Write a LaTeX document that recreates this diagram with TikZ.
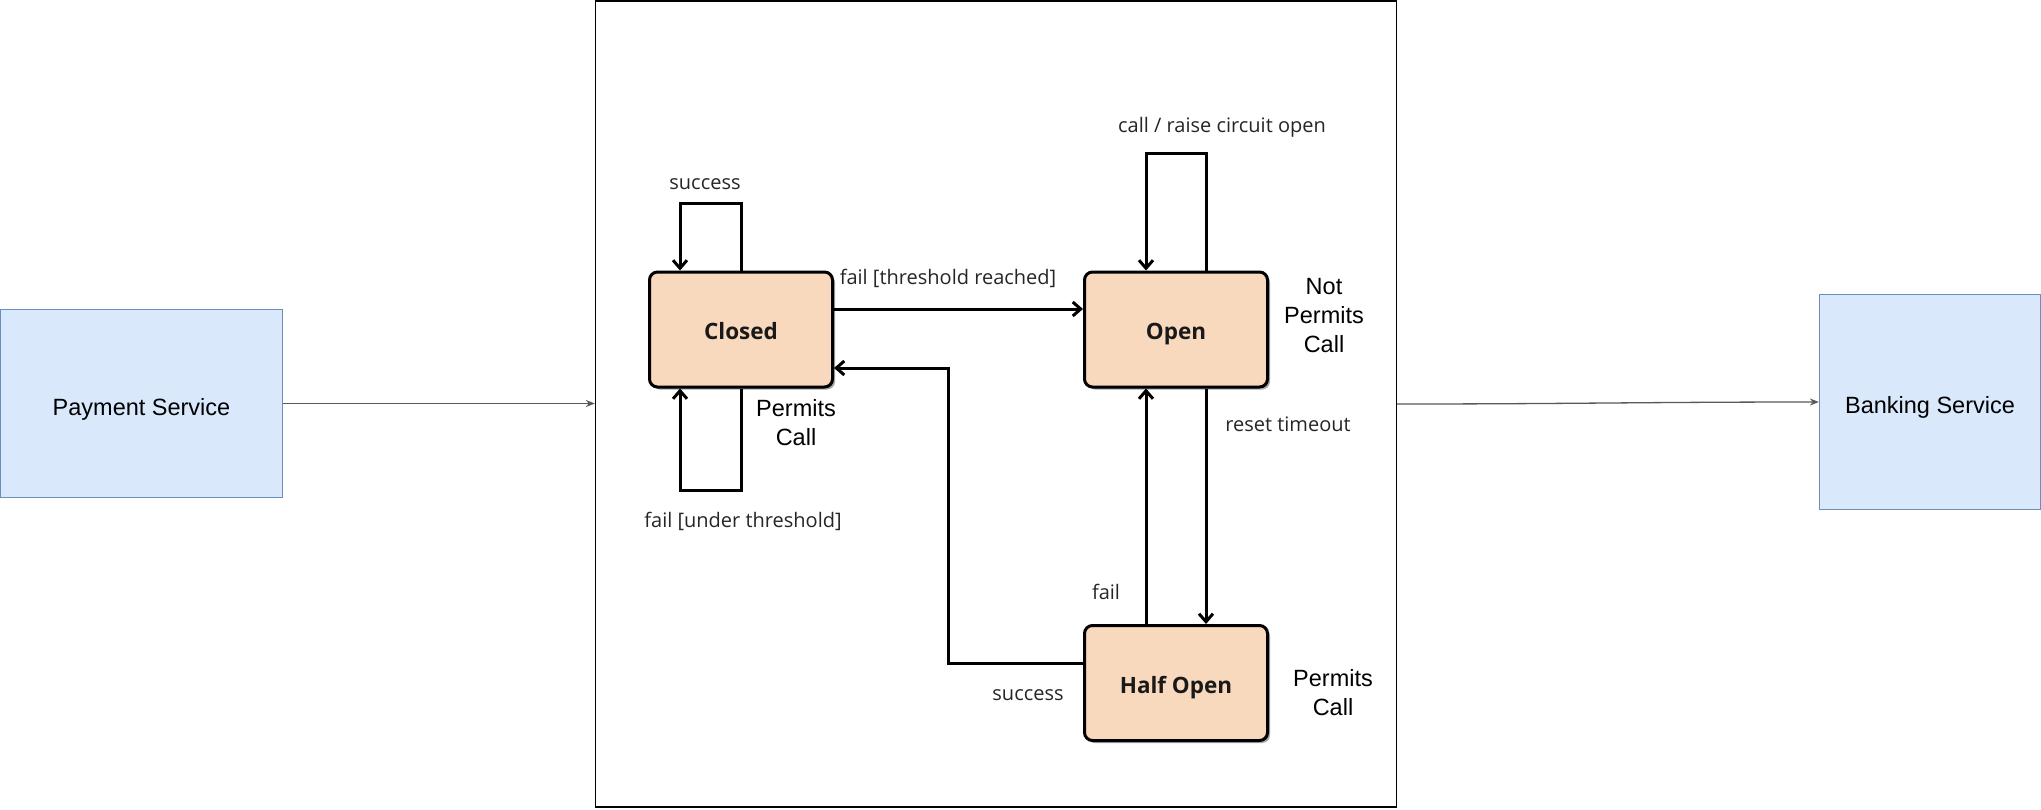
\documentclass[tikz,border=0pt]{standalone}
\usepackage{fontspec}
\newfontfamily\osfont{Open Sans}
\newfontfamily\arfont{Liberation Sans}
\usetikzlibrary{arrows.meta,shadows}
\definecolor{peach}{HTML}{F8D9BE}
\definecolor{bluefill}{HTML}{DAE8FC}
\definecolor{bluedraw}{HTML}{6C8EBF}
\definecolor{labgray}{HTML}{262626}
\tikzset{
  statebox/.style={draw=black, line width=3pt, fill=peach, rounded corners=8pt,
    minimum width=183pt, minimum height=115pt, inner sep=0pt,
    text height=20pt, text depth=0pt,
    font=\osfont\bfseries\fontsize{22.5}{26}\selectfont, text=black!90,
    drop shadow={shadow xshift=2.5pt, shadow yshift=-2.5pt, fill=black, opacity=.35}},
  svc/.style={draw=bluedraw, line width=1.3pt, fill=bluefill, inner sep=0pt,
    text height=23pt, text depth=0pt,
    font=\arfont\fontsize{23.5}{28}\selectfont},
  lab/.style={font=\osfont\fontsize{20}{24}\selectfont, text=labgray, inner sep=0pt},
  note/.style={font=\arfont\fontsize{23.5}{29}\selectfont, align=center, inner sep=0pt},
  sarrow/.style={line width=3pt, -{Straight Barb[length=8pt,width=14pt]}},
  tarrow/.style={line width=1.3pt, draw=black!65, -{Stealth[length=9pt,width=7pt,fill=black]}},
}
\begin{document}
\begin{tikzpicture}[x=1pt,y=-1pt]
\useasboundingbox (0,0) rectangle (2041,809);
\fill[white] (0,0) rectangle (2041,809);

% outer frame and services
\node[draw=black, line width=1.3pt, minimum width=801pt, minimum height=806pt, inner sep=0pt] (frame) at (996,404) {};
\node[svc, minimum width=282pt, minimum height=188pt] (pay) at (141.5,403.5) {Payment Service};
\node[svc, minimum width=221pt, minimum height=215pt] (bank) at (1930,402) {Banking Service};

\draw[tarrow] (pay.east) -- (frame.west |- pay.east);
\draw[tarrow] (frame.east |- 0,404) to[out=0,in=180] (bank.west);

% states
\node[statebox] (closed) at (741,329.5) {Closed};
\node[statebox] (open) at (1176,329.5) {Open};
\node[statebox] (half) at (1176,683) {Half Open};

% helper coordinates
\coordinate (c680) at (680,0);
\coordinate (c1146) at (1146,0);
\coordinate (c1206) at (1206,0);
\coordinate (r309) at (0,309);
\coordinate (hs) at (948,663);
\coordinate (hc) at (948,368);
\coordinate (ctop) at (741,203);
\coordinate (cbot) at (741,490);
\coordinate (otop) at (1206,153);

% closed self loops
\draw[sarrow] (closed.north) -- (ctop) -| (closed.north -| c680);
\draw[sarrow] (closed.south) -- (cbot) -| (closed.south -| c680);
% closed -> open
\draw[sarrow] (closed.east |- r309) -- (open.west |- r309);
% open self loop
\draw[sarrow] (open.north -| c1206) -- (otop) -| (open.north -| c1146);
% open -> half open
\draw[sarrow] (open.south -| c1206) -- (half.north -| c1206);
% half open -> open
\draw[sarrow] (half.north -| c1146) -- (open.south -| c1146);
% half open -> closed
\draw[sarrow] (half.west |- hs) -- (hs) -- (hc) -- (closed.east |- hc);

% labels
\node[lab] (l1) at (705,184.5) {success};
\node[lab] (l2) at (948,278) {fail [threshold reached]};
\node[lab] (l3) at (1222,127.5) {call / raise circuit open};
\node[lab] (l4) at (743,521) {fail [under threshold]};
\node[lab] (l5) at (1288,424.5) {reset timeout};
\node[lab] (l6) at (1106,592) {fail};
\node[lab] (l7) at (1028,695.5) {success};

\node[note] (n1) at (796,423) {Permits\\Call};
\node[note] (n2) at (1324,316) {Not\\Permits\\Call};
\node[note] (n3) at (1333,693) {Permits\\Call};
\end{tikzpicture}
\end{document}
